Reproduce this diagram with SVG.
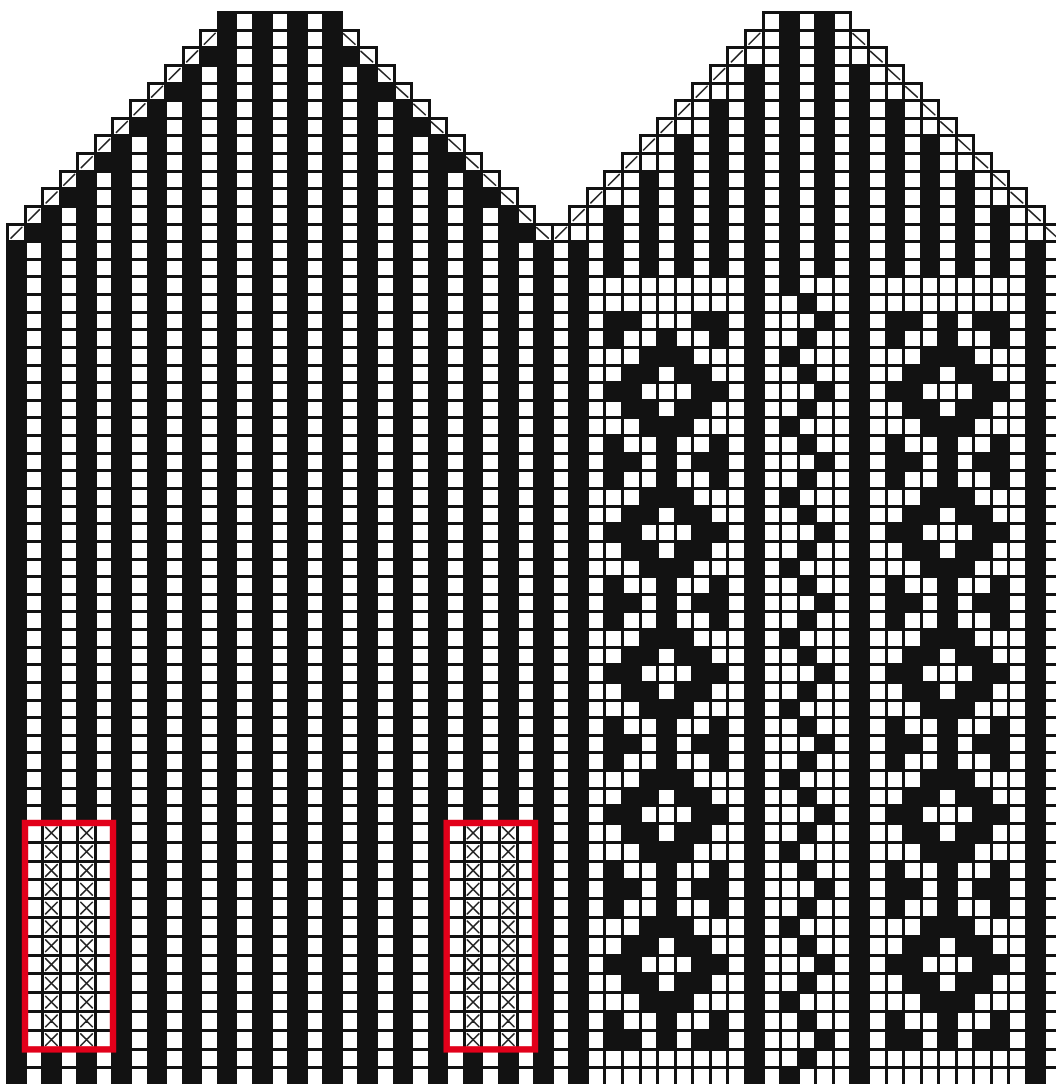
<svg xmlns="http://www.w3.org/2000/svg" width="1056" height="1084" viewBox="0 0 1056 1084">
<style>
.k{fill:#121212;stroke:none;shape-rendering:crispEdges}
.l{fill:none;stroke:#121212;stroke-width:3;stroke-linecap:square;vector-effect:non-scaling-stroke;shape-rendering:crispEdges}
.d{fill:none;stroke:#222;stroke-width:1.6;stroke-linecap:round;vector-effect:non-scaling-stroke}
.r{fill:none;stroke:#e2001a;stroke-width:6.4}
</style>
<defs>
<clipPath id="upper"><rect x="0" y="0" width="1056" height="825"/></clipPath>
<clipPath id="lower"><rect x="0" y="823" width="1056" height="261"/></clipPath>
<path id="m" class="k" d="M1 -1h1v1h-1zM4 -1h1v1h-1zM7 -1h1v1h-1zM3 0h3v1h-3zM2 1h2v1h-2zM5 1h2v1h-2zM1 2h2v1h-2zM6 2h2v1h-2zM2 3h2v1h-2zM5 3h2v1h-2zM3 4h3v1h-3zM1 5h1v1h-1zM4 5h1v1h-1zM7 5h1v1h-1zM1 6h2v1h-2zM4 6h1v1h-1zM6 6h2v1h-2z"/>
<g id="p">
<use href="#m" transform="translate(0 19)"/>
<use href="#m" transform="translate(0 27)"/>
<use href="#m" transform="translate(0 35)"/>
<use href="#m" transform="translate(0 43)"/>
<use href="#m" transform="translate(0 51)"/>
</g>
<path id="w" class="k" d="M1 0h1v1h-1zM2 1h1v1h-1zM3 2h1v1h-1zM2 3h1v1h-1z"/>
<path id="xc" class="d" d="M.17 46.19L.83 46.81M.83 46.19L.17 46.81M.17 47.19L.83 47.81M.83 47.19L.17 47.81M.17 48.19L.83 48.81M.83 48.19L.17 48.81M.17 49.19L.83 49.81M.83 49.19L.17 49.81M.17 50.19L.83 50.81M.83 50.19L.17 50.81M.17 51.19L.83 51.81M.83 51.19L.17 51.81M.17 52.19L.83 52.81M.83 52.19L.17 52.81M.17 53.19L.83 53.81M.83 53.19L.17 53.81M.17 54.19L.83 54.81M.83 54.19L.17 54.81M.17 55.19L.83 55.81M.83 55.19L.17 55.81M.17 56.19L.83 56.81M.83 56.19L.17 56.81M.17 57.19L.83 57.81M.83 57.19L.17 57.81"/>
<g id="chart">
<path class="k" d="M0 13h1V61h-1zM2 11h1V46h-1zM2 58h1V61h-1zM4 9h1V46h-1zM4 58h1V61h-1zM6 7h1V61h-1zM8 5h1V61h-1zM10 3h1V61h-1zM12 0h1V61h-1zM14 0h1V61h-1zM16 0h1V61h-1zM18 0h1V61h-1zM20 3h1V61h-1zM22 5h1V61h-1zM24 7h1V61h-1zM26 9h1V46h-1zM26 58h1V61h-1zM28 11h1V46h-1zM28 58h1V61h-1zM30 13h1V61h-1zM32 13h1V61h-1zM34 11h1V15h-1zM36 9h1V15h-1zM38 7h1V15h-1zM40 5h1V15h-1zM42 3h1V61h-1zM44 0h1V15h-1zM46 0h1V15h-1zM48 3h1V61h-1zM50 5h1V15h-1zM52 7h1V15h-1zM54 9h1V15h-1zM56 11h1V15h-1zM58 13h1V61h-1z"/>
<path class="k" d="M11 2h1v1h-1zM19 2h1v1h-1zM9 4h1v1h-1zM21 4h1v1h-1zM7 6h1v1h-1zM23 6h1v1h-1zM5 8h1v1h-1zM25 8h1v1h-1zM3 10h1v1h-1zM27 10h1v1h-1zM1 12h1v1h-1zM29 12h1v1h-1z"/>
<use href="#p" transform="translate(33 0)"/>
<use href="#p" transform="translate(49 0)"/>
<path class="k" d="M34 17h2v1h-2zM39 17h2v1h-2zM50 17h2v1h-2zM53 17h1v1h-1zM55 17h2v1h-2z"/>
<use href="#w" transform="translate(43 15)"/><use href="#w" transform="translate(43 19)"/><use href="#w" transform="translate(43 23)"/><use href="#w" transform="translate(43 27)"/><use href="#w" transform="translate(43 31)"/><use href="#w" transform="translate(43 35)"/><use href="#w" transform="translate(43 39)"/><use href="#w" transform="translate(43 43)"/><use href="#w" transform="translate(43 47)"/><use href="#w" transform="translate(43 51)"/><use href="#w" transform="translate(43 55)"/><use href="#w" transform="translate(43 59)"/>
<path class="l" d="M12 0H19M11 1H20M10 2H21M9 3H22M8 4H23M7 5H24M6 6H25M5 7H26M4 8H27M3 9H28M2 10H29M1 11H30M0 12H31M43 0H48M42 1H49M41 2H50M40 3H51M39 4H52M38 5H53M37 6H54M36 7H55M35 8H56M34 9H57M33 10H58M32 11H59M31 12H60M0 13H61M0 14H61M0 15H61M0 16H61M0 17H61M0 18H61M0 19H61M0 20H61M0 21H61M0 22H61M0 23H61M0 24H61M0 25H61M0 26H61M0 27H61M0 28H61M0 29H61M0 30H61M0 31H61M0 32H61M0 33H61M0 34H61M0 35H61M0 36H61M0 37H61M0 38H61M0 39H61M0 40H61M0 41H61M0 42H61M0 43H61M0 44H61M0 45H61M0 46H61M0 47H61M0 48H61M0 49H61M0 50H61M0 51H61M0 52H61M0 53H61M0 54H61M0 55H61M0 56H61M0 57H61M0 58H61M0 59H61M0 60H61"/>
<path class="l" d="M0 12V61M1 11V61M2 10V61M3 9V61M4 8V61M5 7V61M6 6V61M7 5V61M8 4V61M9 3V61M10 2V61M11 1V61M12 0V61M13 0V61M14 0V61M15 0V61M16 0V61M17 0V61M18 0V61M19 0V61M20 1V61M21 2V61M22 3V61M23 4V61M24 5V61M25 6V61M26 7V61M27 8V61M28 9V61M29 10V61M30 11V61M31 12V61M32 11V61M33 10V61M34 9V61M35 8V61M36 7V61M37 6V61M38 5V61M39 4V61M40 3V61M41 2V61M42 1V61M43 0V61M44 0V61M45 0V61M46 0V61M47 0V61M48 0V61M49 1V61M50 2V61M51 3V61M52 4V61M53 5V61M54 6V61M55 7V61M56 8V61M57 9V61M58 10V61M59 11V61M60 12V61"/>
<path class="d" d="M11.2 1.8l.62-.62M10.2 2.8l.62-.62M9.2 3.8l.62-.62M8.2 4.8l.62-.62M7.2 5.8l.62-.62M6.2 6.8l.62-.62M5.2 7.8l.62-.62M4.2 8.8l.62-.62M3.2 9.8l.62-.62M2.2 10.8l.62-.62M1.2 11.8l.62-.62M.2 12.8l.62-.62M42.2 1.8l.62-.62M41.2 2.8l.62-.62M40.2 3.8l.62-.62M39.2 4.8l.62-.62M38.2 5.8l.62-.62M37.2 6.8l.62-.62M36.2 7.8l.62-.62M35.2 8.8l.62-.62M34.2 9.8l.62-.62M33.2 10.8l.62-.62M32.2 11.8l.62-.62M31.2 12.8l.62-.62"/>
<path class="d" d="M19.12 1.2l.66.6M20.12 2.2l.66.6M21.12 3.2l.66.6M22.12 4.2l.66.6M23.12 5.2l.66.6M24.12 6.2l.66.6M25.12 7.2l.66.6M26.12 8.2l.66.6M27.12 9.2l.66.6M28.12 10.2l.66.6M29.12 11.2l.66.6M30.12 12.2l.66.6M48.12 1.2l.66.6M49.12 2.2l.66.6M50.12 3.2l.66.6M51.12 4.2l.66.6M52.12 5.2l.66.6M53.12 6.2l.66.6M54.12 7.2l.66.6M55.12 8.2l.66.6M56.12 9.2l.66.6M57.12 10.2l.66.6M58.12 11.2l.66.6M59.12 12.2l.66.6"/>
<use href="#xc" transform="translate(2 0)"/>
<use href="#xc" transform="translate(4 0)"/>
<use href="#xc" transform="translate(26 0)"/>
<use href="#xc" transform="translate(28 0)"/>
</g>
</defs>
<rect width="1056" height="1084" fill="#fff"/>
<g clip-path="url(#upper)"><use id="chart-upper" href="#chart" transform="translate(7.5 12.5) scale(17.57 17.63)"/></g>
<g clip-path="url(#lower)"><use id="chart-lower" href="#chart" transform="translate(7.5 -41.3) scale(17.57 18.8)"/></g>
<rect id="box-left" class="r" x="25" y="823" width="88" height="226.4"/>
<rect id="box-right" class="r" x="446.7" y="823" width="88.3" height="226.4"/>
</svg>
